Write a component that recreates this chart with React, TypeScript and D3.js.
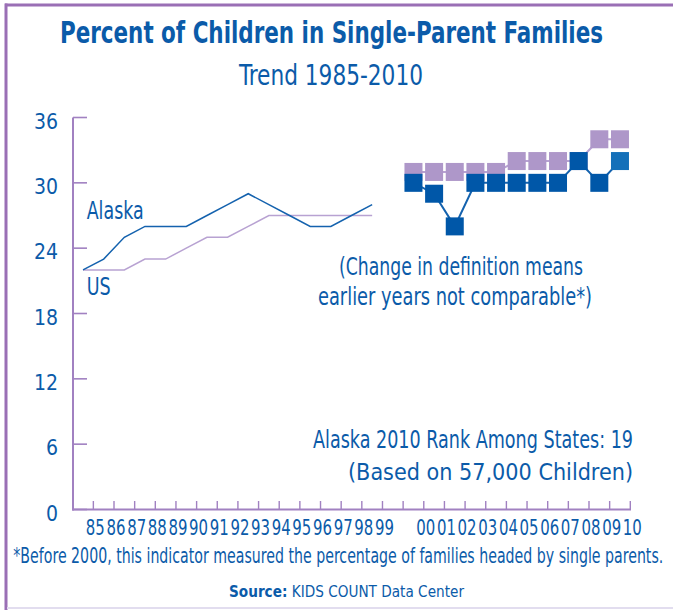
import React from "react";
import * as d3 from "d3";

const slots = ["85","86","87","88","89","90","91","92","93","94","95","96","97","98","99","gap","00","01","02","03","04","05","06","07","08","09","10"];
const earlyYears = ["85","86","87","88","89","90","91","92","93","94","95","96","97","98","99"];
const lateYears = ["00","01","02","03","04","05","06","07","08","09","10"];
const alaskaEarly = [22,23,25,26,26,26,27,28,29,28,27,26,26,27,28];
const usEarly = [22,22,22,23,23,24,25,25,26,27,27,27,27,27,27];
const alaskaLate = [30,29,26,30,30,30,30,30,32,30,32];
const usLate = [31,31,31,31,31,32,32,32,32,34,34];
const yTicks = [0,6,12,18,24,30,36];

const FONT = "'Liberation Sans Narrow','Arial Narrow','DejaVu Sans Condensed',sans-serif";
const BLUE = "#0b5ba9";
const DARK = "#0057a8";
const LIGHTBLUE = "#1470b9";
const LAV = "#ae97c9";
const LAVLINE = "#b8a2d2";
const AXIS = "#a181c1";

export default function App() {
  const x = d3.scaleBand<string>().domain(slots).range([72.7, 630.3]).padding(0);
  const bw = x.bandwidth();
  const cx = (k: string) => (x(k) as number) + bw / 2;
  const y = d3.scaleLinear().domain([0, 36]).range([509.5, 117.5]);
  const line = d3.line<[number, number]>().x(d => d[0]).y(d => d[1]);

  const aE = earlyYears.map((k, i) => [cx(k), y(alaskaEarly[i])] as [number, number]);
  const uE = earlyYears.map((k, i) => [cx(k), y(usEarly[i])] as [number, number]);
  const aL = lateYears.map((k, i) => [cx(k), y(alaskaLate[i])] as [number, number]);
  const uL = lateYears.map((k, i) => [cx(k), y(usLate[i])] as [number, number]);
  const ms = 18;

  return (
    <svg width={673} height={610} style={{ position: "absolute", left: 0, top: 0, display: "block" }} fontFamily={FONT}>
      <rect x={0} y={0} width={673} height={610} fill="#fff" />
      {/* frame */}
      <rect x={5} y={3.5} width={668} height={3} fill="#9a6fb5" />
      <rect x={4.5} y={3.5} width={3} height={606.5} fill="#9a6fb5" />
      <rect x={7} y={607} width={666} height={2} fill="#e2ddef" />

      {/* titles */}
      <text x={60} y={42.7} fontSize={31} fontWeight="bold" fill={BLUE} textLength={543} lengthAdjust="spacingAndGlyphs">Percent of Children in Single-Parent Families</text>
      <text x={239} y={85} fontSize={29} fill={BLUE} textLength={184} lengthAdjust="spacingAndGlyphs">Trend 1985-2010</text>

      {/* y axis */}
      <line x1={73} x2={73} y1={y(36)} y2={y(0) + 1} stroke={AXIS} strokeWidth={2} />
      {yTicks.map(t => (
        <g key={t}>
          <line x1={73} x2={87} y1={y(t)} y2={y(t)} stroke={AXIS} strokeWidth={1.6} />
          <text x={58} y={y(t) + 11} fontSize={21} fill={BLUE} textAnchor="end">{t}</text>
        </g>
      ))}
      {/* x axis */}
      <line x1={72} x2={631} y1={y(0)} y2={y(0)} stroke={AXIS} strokeWidth={2} />
      {slots.map(k => (
        <line key={k} x1={(x(k) as number) + bw} x2={(x(k) as number) + bw} y1={y(0)} y2={y(0) - 8.5} stroke={AXIS} strokeWidth={1.4} />
      ))}
      {slots.filter(k => k !== "gap").map(k => (
        <text key={k} x={(x(k) as number) + bw + 2} y={535} fontSize={22} fill={BLUE} textAnchor="middle" textLength={19} lengthAdjust="spacingAndGlyphs">{k}</text>
      ))}

      {/* early lines */}
      <path d={line(uE) || ""} fill="none" stroke={LAVLINE} strokeWidth={1.5} />
      <path d={line(aE) || ""} fill="none" stroke="#1462ae" strokeWidth={1.5} />
      <text x={86.7} y={219} fontSize={24} fill={BLUE} textLength={57} lengthAdjust="spacingAndGlyphs">Alaska</text>
      <text x={86.7} y={295} fontSize={24} fill={BLUE} textLength={24} lengthAdjust="spacingAndGlyphs">US</text>

      {/* late lines and markers */}
      <path d={line(uL) || ""} fill="none" stroke={LAVLINE} strokeWidth={2} />
      {uL.map((p, i) => (
        <rect key={"u" + i} x={p[0] - ms / 2} y={p[1] - ms / 2} width={ms} height={ms} fill={LAV} />
      ))}
      <path d={line(aL) || ""} fill="none" stroke="#1462ae" strokeWidth={2} />
      {aL.map((p, i) => (
        <rect key={"a" + i} x={p[0] - ms / 2} y={p[1] - ms / 2} width={ms} height={ms} fill={i === aL.length - 1 ? LIGHTBLUE : DARK} />
      ))}

      {/* annotations */}
      <text x={339} y={275} fontSize={24} fill={BLUE} textLength={244} lengthAdjust="spacingAndGlyphs">(Change in definition means</text>
      <text x={318} y={305} fontSize={24} fill={BLUE} textLength={274} lengthAdjust="spacingAndGlyphs">earlier years not comparable*)</text>
      <text x={633} y={448} fontSize={24} fill={BLUE} textAnchor="end" textLength={320} lengthAdjust="spacingAndGlyphs">Alaska 2010 Rank Among States: 19</text>
      <text x={633} y={480} fontSize={23} fill={BLUE} textAnchor="end" textLength={285} lengthAdjust="spacingAndGlyphs">(Based on 57,000 Children)</text>

      {/* footer */}
      <text x={13.3} y={563.3} fontSize={20.5} fill={BLUE} textLength={650} lengthAdjust="spacingAndGlyphs">*Before 2000, this indicator measured the percentage of families headed by single parents.</text>
      <text x={229} y={596.5} fontSize={16.5} fill={BLUE} textLength={235} lengthAdjust="spacingAndGlyphs">
        <tspan fontWeight="bold">Source:</tspan>
        <tspan> KIDS COUNT Data Center</tspan>
      </text>
    </svg>
  );
}
